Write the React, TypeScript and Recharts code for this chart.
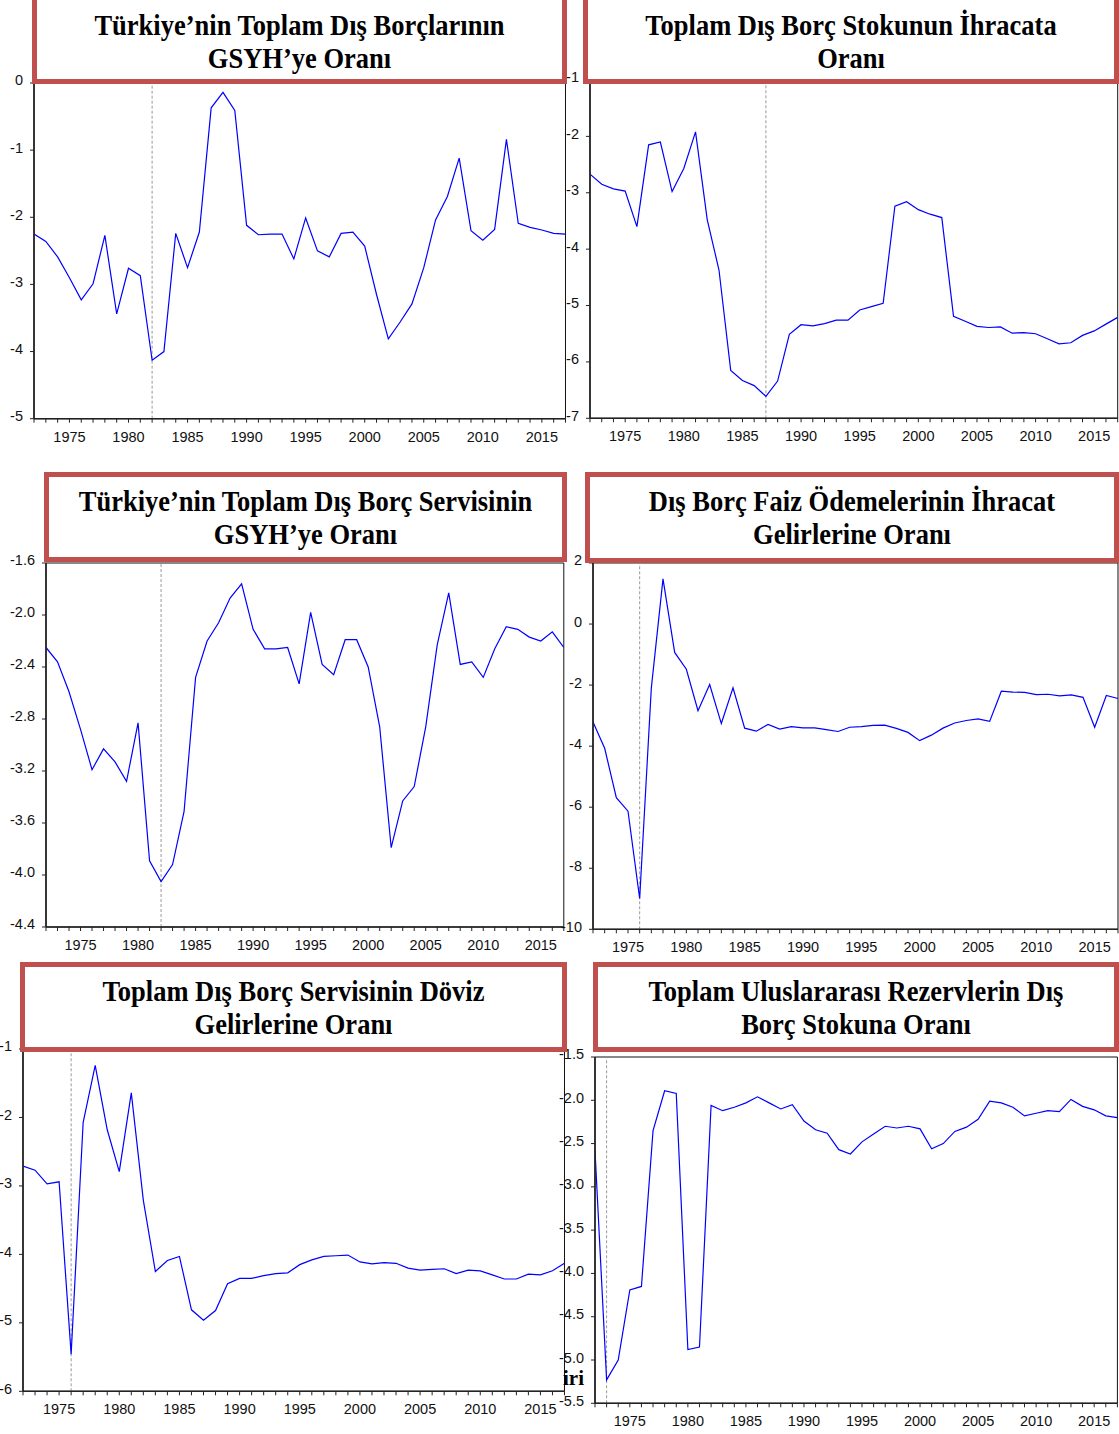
import React from "react";
import {
  LineChart,
  Line,
  XAxis,
  YAxis,
  ReferenceLine,
  ReferenceArea,
} from "recharts";

// years on the horizontal axis (all six panels)
const years = [
  1972, 1973, 1974, 1975, 1976, 1977, 1978, 1979, 1980, 1981,
  1982, 1983, 1984, 1985, 1986, 1987, 1988, 1989, 1990, 1991,
  1992, 1993, 1994, 1995, 1996, 1997, 1998, 1999, 2000, 2001,
  2002, 2003, 2004, 2005, 2006, 2007, 2008, 2009, 2010, 2011,
  2012, 2013, 2014, 2015, 2016, 2017,
];

// series values
const debtToGdp = [
  -2.25, -2.36, -2.59, -2.9, -3.23, -2.99, -2.27, -3.44, -2.76, -2.87,
  -4.13, -4.0, -2.24, -2.75, -2.22, -0.37, -0.14, -0.41, -2.12, -2.26,
  -2.25, -2.25, -2.62, -2.01, -2.5, -2.59, -2.24, -2.22, -2.43, -3.15,
  -3.81, -3.56, -3.29, -2.75, -2.04, -1.69, -1.12, -2.2, -2.34, -2.18,
  -0.84, -2.09, -2.15, -2.19, -2.24, -2.25,
];
const debtStockToExports = [
  -2.67, -2.85, -2.93, -2.97, -3.6, -2.15, -2.1, -2.98, -2.57, -1.92,
  -3.48, -4.37, -6.15, -6.33, -6.42, -6.61, -6.34, -5.51, -5.34, -5.36,
  -5.32, -5.26, -5.26, -5.08, -5.02, -4.96, -3.24, -3.16, -3.3, -3.38,
  -3.44, -5.19, -5.28, -5.37, -5.39, -5.38, -5.49, -5.48, -5.5, -5.59,
  -5.68, -5.66, -5.53, -5.45, -5.33, -5.21,
];
const debtServiceToGdp = [
  -2.25, -2.36, -2.59, -2.88, -3.19, -3.03, -3.13, -3.28, -2.83, -3.89,
  -4.05, -3.92, -3.51, -2.48, -2.2, -2.06, -1.87, -1.76, -2.11, -2.26,
  -2.26, -2.25, -2.53, -1.98, -2.38, -2.46, -2.19, -2.19, -2.4, -2.86,
  -3.79, -3.43, -3.32, -2.86, -2.23, -1.83, -2.38, -2.36, -2.48, -2.26,
  -2.09, -2.11, -2.17, -2.2, -2.13, -2.25,
];
const interestToExports = [
  -3.21, -4.07, -5.69, -6.13, -8.99, -2.09, 1.48, -0.93, -1.48, -2.84,
  -1.98, -3.26, -2.09, -3.41, -3.51, -3.29, -3.44, -3.36, -3.4, -3.4,
  -3.46, -3.52, -3.38, -3.36, -3.32, -3.31, -3.42, -3.55, -3.82, -3.64,
  -3.41, -3.24, -3.16, -3.11, -3.19, -2.2, -2.23, -2.24, -2.31, -2.3,
  -2.35, -2.32, -2.4, -3.38, -2.34, -2.44,
];
const debtServiceToFx = [
  -2.71, -2.77, -2.97, -2.94, -5.46, -2.07, -1.24, -2.18, -2.79, -1.64,
  -3.21, -4.25, -4.09, -4.03, -4.81, -4.96, -4.82, -4.43, -4.35, -4.35,
  -4.31, -4.28, -4.27, -4.15, -4.08, -4.03, -4.02, -4.01, -4.11, -4.14,
  -4.12, -4.13, -4.2, -4.23, -4.22, -4.21, -4.28, -4.23, -4.24, -4.3,
  -4.36, -4.36, -4.29, -4.3, -4.24, -4.13,
];
const reservesToDebt = [
  -2.58, -5.23, -5.0, -4.19, -4.15, -2.35, -1.89, -1.92, -4.88, -4.85,
  -2.06, -2.12, -2.08, -2.03, -1.96, -2.03, -2.1, -2.05, -2.24, -2.34,
  -2.38, -2.57, -2.62, -2.48, -2.39, -2.3, -2.32, -2.3, -2.33, -2.56,
  -2.5, -2.36, -2.31, -2.22, -2.01, -2.03, -2.08, -2.18, -2.15, -2.12,
  -2.13, -1.99, -2.07, -2.11, -2.18, -2.2,
];

// y tick values, top to bottom
const ticksA = [0, -1, -2, -3, -4, -5];
const ticksB = [-1, -2, -3, -4, -5, -6, -7];
const ticksC = [-1.6, -2.0, -2.4, -2.8, -3.2, -3.6, -4.0, -4.4];
const ticksD = [2, 0, -2, -4, -6, -8, -10];
const ticksE = [-1, -2, -3, -4, -5, -6];
const ticksF = [-1.5, -2.0, -2.5, -3.0, -3.5, -4.0, -4.5, -5.0, -5.5];

const xLabels = [1975, 1980, 1985, 1990, 1995, 2000, 2005, 2010, 2015];

const SANS = '"Liberation Sans", Arial, sans-serif';
const SERIF = '"Liberation Serif", "Times New Roman", serif';
const RED = "#C0504D";

const panels = [
  {
    series: debtToGdp, yTicks: ticksA, decimals: 0, breakYear: 1982,
    rect: { left: 33.5, top: 83.3, right: 565, bottom: 419 },
    box: { left: 32, top: -20, right: 567, bottom: 84, mid: 42 },
    title: ["Türkiye’nin Toplam Dış Borçlarının", "GSYH’ye Oranı"],
  },
  {
    series: debtStockToExports, yTicks: ticksB, decimals: 0, breakYear: 1987,
    rect: { left: 590.3, top: 80, right: 1118, bottom: 418.3 },
    box: { left: 583, top: -20, right: 1119, bottom: 84, mid: 42 },
    title: ["Toplam Dış Borç Stokunun İhracata", "Oranı"],
  },
  {
    series: debtServiceToGdp, yTicks: ticksC, decimals: 1, breakYear: 1982,
    rect: { left: 46.2, top: 563.3, right: 564, bottom: 927.3 },
    box: { left: 44, top: 472, right: 567, bottom: 562, mid: 518 },
    title: ["Türkiye’nin Toplam Dış Borç Servisinin", "GSYH’ye Oranı"],
  },
  {
    series: interestToExports, yTicks: ticksD, decimals: 0, breakYear: 1976,
    rect: { left: 593, top: 562.7, right: 1118, bottom: 929 },
    box: { left: 585, top: 472, right: 1119, bottom: 563, mid: 518 },
    title: ["Dış Borç Faiz Ödemelerinin İhracat", "Gelirlerine Oranı"],
  },
  {
    series: debtServiceToFx, yTicks: ticksE, decimals: 0, breakYear: 1976,
    rect: { left: 22.5, top: 1048.7, right: 564, bottom: 1391 },
    box: { left: 20, top: 962, right: 567, bottom: 1052, mid: 1008 },
    title: ["Toplam Dış Borç Servisinin Döviz", "Gelirlerine Oranı"],
  },
  {
    series: reservesToDebt, yTicks: ticksF, decimals: 1, breakYear: 1973,
    rect: { left: 594.6, top: 1056.7, right: 1117, bottom: 1403 },
    box: { left: 593, top: 962, right: 1119, bottom: 1052, mid: 1008 },
    title: ["Toplam Uluslararası Rezervlerin Dış", "Borç Stokuna Oranı"],
  },
];

function XTick(props: any) {
  const { x, y, payload } = props;
  if (!xLabels.includes(payload.value)) return <g />;
  return (
    <text x={x} y={y + 12} textAnchor="middle" dominantBaseline="central"
      fontSize={14.5} fontFamily={SANS} fill="#111">
      {payload.value}
    </text>
  );
}

function makeYTick(decimals: number) {
  return (props: any) => {
    const { x, y, payload } = props;
    return (
      <text x={x - 5} y={y - 2.5} textAnchor="end" dominantBaseline="central"
        fontSize={14.5} fontFamily={SANS} fill="#111">
        {payload.value.toFixed(decimals)}
      </text>
    );
  };
}

function Panel({ p }: { p: any }) {
  const padL = 50, padT = 12, padR = 12, axisH = 34;
  const w = p.rect.right - p.rect.left;
  const h = p.rect.bottom - p.rect.top;
  const data = years.map((year, i) => ({ year, value: p.series[i] }));
  const yMin = p.yTicks[p.yTicks.length - 1];
  const yMax = p.yTicks[0];
  return (
    <div style={{ position: "absolute", left: p.rect.left - padL, top: p.rect.top - padT }}>
      <LineChart width={w + padL + padR} height={h + padT + axisH} data={data}
        margin={{ top: padT, right: padR, bottom: 0, left: 0 }}>
        <XAxis dataKey="year" type="number" domain={[1972, 2017]} ticks={years}
          interval={0} tickSize={4} height={axisH} allowDataOverflow
          axisLine={{ stroke: "#222", strokeWidth: 1.6 }} tickLine={{ stroke: "#222" }}
          tick={(props: any) => <XTick {...props} />} />
        <YAxis type="number" domain={[yMin, yMax]} ticks={p.yTicks} interval={0}
          tickSize={4} width={padL} allowDataOverflow
          axisLine={{ stroke: "#222", strokeWidth: 1.6 }} tickLine={{ stroke: "#222" }}
          tick={makeYTick(p.decimals)} />
        <ReferenceArea x1={1972} x2={2017} y1={yMin} y2={yMax}
          fill="none" fillOpacity={0} stroke="#111" strokeWidth={1} />
        <ReferenceLine x={p.breakYear} stroke="#999" strokeDasharray="3 2" strokeWidth={1} />
        <Line type="linear" dataKey="value" stroke="#0000ff" strokeWidth={1.2}
          dot={false} isAnimationActive={false} />
      </LineChart>
    </div>
  );
}

function TitleBox({ p }: { p: any }) {
  const b = p.box;
  return (
    <>
      <div style={{
        position: "absolute", left: b.left, top: b.top, width: b.right - b.left,
        height: b.bottom - b.top, border: `5px solid ${RED}`, background: "#fff",
        boxSizing: "border-box",
      }} />
      <div style={{
        position: "absolute", left: b.left, width: b.right - b.left, top: b.mid - 30,
        height: 60, textAlign: "center", fontFamily: SERIF, fontWeight: "bold",
        fontSize: 26.5, lineHeight: "30px", color: "#000",
        transform: "scaleY(1.1)",
      }}>
        <div>{p.title[0]}</div>
        <div>{p.title[1]}</div>
      </div>
    </>
  );
}

export default function App() {
  return (
    <div style={{
      position: "absolute", left: 0, top: 0, width: 1119, height: 1434,
      overflow: "hidden", background: "#fff",
    }}>
      {panels.map((p, i) => <Panel key={`panel-${i}`} p={p} />)}
      <div style={{
        position: "absolute", left: 563, top: 1368, fontFamily: SERIF,
        fontWeight: "bold", fontSize: 21, lineHeight: "20px", whiteSpace: "nowrap",
      }}>
        iri
      </div>
      {panels.map((p, i) => <TitleBox key={`box-${i}`} p={p} />)}
    </div>
  );
}
